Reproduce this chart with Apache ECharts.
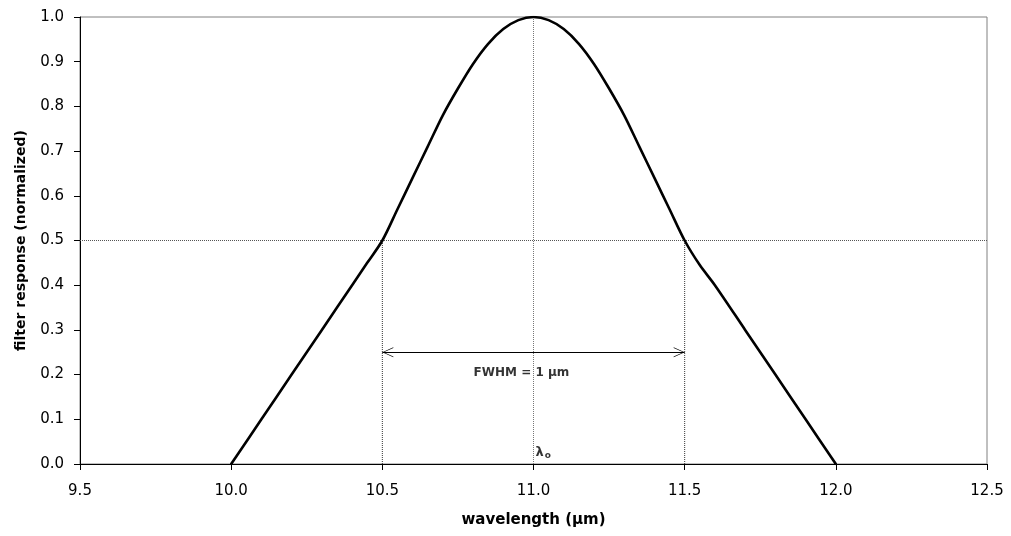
<!DOCTYPE html>
<html>
<head>
<meta charset="utf-8">
<script src="https://cdn.jsdelivr.net/npm/echarts@6/dist/echarts.min.js"></script>
<style>
html,body{margin:0;padding:0;background:#fff;}
#chart{width:1011px;height:536px;}
</style>
</head>
<body>
<div id="chart"></div>
<script>
// ---- data ----
const wavelength = [10.0,10.1,10.2,10.3,10.4,10.45,10.5,10.55,10.6,10.65,10.7,10.75,10.8,10.85,10.9,10.95,11.0,
                    11.05,11.1,11.15,11.2,11.25,11.3,11.35,11.4,11.45,11.5,11.55,11.6,11.7,11.8,11.9,12.0];
const response   = [0,0.1,0.2,0.3,0.4,0.45,0.5,0.57,0.64,0.71,0.78,0.84,0.895,0.94,0.973,0.993,1.0,
                    0.993,0.973,0.94,0.895,0.84,0.78,0.71,0.64,0.57,0.5,0.445,0.4,0.3,0.2,0.1,0];
const xTicks = [9.5,10.0,10.5,11.0,11.5,12.0,12.5];
const yTicks = [0.0,0.1,0.2,0.3,0.4,0.5,0.6,0.7,0.8,0.9,1.0];
const halfMax = 0.5;
const peak = 1.0;
const centerWavelength = 11.0;
const fwhmEdges = [10.5, 11.5];
const arrowLevel = 0.25;
const fwhmLabelPos = [10.96, 0.204];
const lambdaLabelPos = [11.0, 0.025];
const fwhmText = 'FWHM = 1 \u03bcm';
const xTitle = 'wavelength (\u03bcm)';
const yTitle = 'filter response (normalized)';

const FONT = 'DejaVu Sans';
const curve = wavelength.map((x, i) => [x, response[i]]);

const chevron = 'path://M10,20 L20,40 L18.7,40 L10,22.6 L1.3,40 L0,40 Z M10,0 L10.05,0 L10,0.05 Z';

const dotted = (data, color) => ({
  type: 'line', data: data, symbol: 'none', silent: true, animation: false,
  lineStyle: { color: color, width: 1, type: [1, 1] }, z: 1
});

const chart = echarts.init(document.getElementById('chart'), null, { renderer: 'canvas' });
chart.setOption({
  animation: false,
  backgroundColor: '#ffffff',
  grid: { left: 80, right: 24, top: 17, bottom: 72, show: true, borderColor: '#808080', borderWidth: 1 },
  xAxis: {
    type: 'value', min: xTicks[0], max: xTicks[xTicks.length - 1], interval: 0.5,
    name: xTitle, nameLocation: 'middle', nameGap: 49,
    nameTextStyle: { fontFamily: FONT, fontWeight: 'bold', fontSize: 15, color: '#000' },
    axisLine: { show: true, onZero: false, lineStyle: { color: '#000', width: 1 } },
    axisTick: { show: true, length: 6, lineStyle: { color: '#000' } },
    axisLabel: { fontFamily: FONT, fontSize: 15, color: '#000', margin: 20,
                 formatter: v => v.toFixed(1) },
    splitLine: { show: false }
  },
  yAxis: {
    type: 'value', min: yTicks[0], max: yTicks[yTicks.length - 1], interval: 0.1,
    name: yTitle, nameLocation: 'middle', nameGap: 52,
    nameTextStyle: { fontFamily: FONT, fontWeight: 'bold', fontSize: 14, color: '#000' },
    axisLine: { show: true, lineStyle: { color: '#000', width: 1 } },
    axisTick: { show: true, length: 6, lineStyle: { color: '#000' } },
    axisLabel: { fontFamily: FONT, fontSize: 15, color: '#000', margin: 16,
                 formatter: v => v.toFixed(1) },
    splitLine: { show: false }
  },
  series: [
    dotted([[xTicks[0], halfMax], [xTicks[xTicks.length - 1], halfMax]], '#555'),
    dotted([[centerWavelength, 0], [centerWavelength, peak]], '#777'),
    dotted([[fwhmEdges[0], 0], [fwhmEdges[0], halfMax]], '#333'),
    dotted([[fwhmEdges[1], 0], [fwhmEdges[1], halfMax]], '#333'),
    {
      type: 'line', data: [], silent: true, animation: false,
      markLine: {
        silent: true, animation: false,
        symbol: [chevron, chevron], symbolSize: [10, 22],
        label: { show: false },
        lineStyle: { color: '#000', width: 1, type: 'solid' },
        emphasis: { disabled: true },
        data: [[ { coord: [fwhmEdges[0], arrowLevel] }, { coord: [fwhmEdges[1], arrowLevel] } ]]
      }
    },
    {
      type: 'line', data: curve, symbol: 'none', smooth: 0.3, animation: false, z: 5,
      lineStyle: { color: '#000', width: 2.6, join: 'round', cap: 'round' }
    },
    {
      type: 'scatter', symbolSize: 0, silent: true, animation: false, z: 6,
      data: [fwhmLabelPos],
      label: { show: true, position: 'inside', formatter: fwhmText,
               fontFamily: FONT, fontWeight: 'bold', fontSize: 12, color: '#000' }
    },
    {
      type: 'scatter', symbolSize: 0, silent: true, animation: false, z: 6,
      data: [lambdaLabelPos],
      label: { show: true, position: 'right', distance: 2, formatter: '{l|\u03bb}{s|o}',
               rich: {
                 l: { fontFamily: FONT, fontWeight: 'bold', fontSize: 13, color: '#000' },
                 s: { fontFamily: FONT, fontWeight: 'bold', fontSize: 9, color: '#000', padding: [6, 0, 0, 1] }
               } }
    }
  ]
});
</script>
</body>
</html>
